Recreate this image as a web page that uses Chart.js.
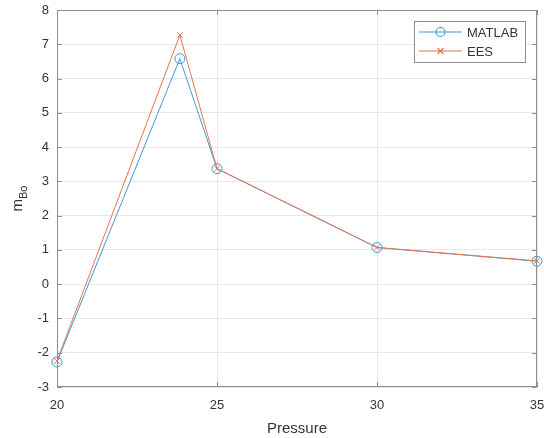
<!DOCTYPE html>
<html>
<head>
<meta charset="utf-8">
<script src="https://cdn.jsdelivr.net/npm/chart.js@4.4.1/dist/chart.umd.min.js"></script>
<style>
  html, body { margin: 0; padding: 0; background: #fff; }
  #wrap { width: 544px; height: 438px; }
</style>
</head>
<body>
<div id="wrap"><canvas id="chart" width="544" height="438"></canvas></div>
<script>
const pressure = [20, 23.84, 25, 30, 35];
const matlabValues = [-2.27, 6.58, 3.37, 1.07, 0.67];
const eesValues = [-2.24, 7.27, 3.37, 1.07, 0.68];
const seriesNames = [`MATLAB`, `EES`];
const xTicks = [20, 25, 30, 35];
const yTicks = [-3, -2, -1, 0, 1, 2, 3, 4, 5, 6, 7, 8];

const FONT = `"Liberation Sans", Arial, sans-serif`;
const AXIS_COLOR = `#8f8f8f`;
const TEXT_COLOR = `#333333`;
const SERIES_COLORS = [`#3a9ad9`, `#e8744a`];

const toPoints = (ys) => pressure.map((x, i) => ({x, y: ys[i]}));

const noPadding = (s) => {
  s.paddingLeft = 0;
  s.paddingRight = 0;
  s.paddingTop = 0;
  s.paddingBottom = 0;
};

// box, inward ticks, y title with subscript, legend
const matlabAxes = {
  id: `matlabAxes`,
  afterDraw(chart) {
    const {ctx, chartArea: a, scales} = chart;
    ctx.save();
    ctx.strokeStyle = AXIS_COLOR;
    ctx.lineWidth = 1;
    ctx.strokeRect(a.left + 0.5, a.top + 0.5, a.right - a.left - 1, a.bottom - a.top - 1);

    ctx.beginPath();
    xTicks.forEach((v) => {
      const px = Math.round(scales.x.getPixelForValue(v)) + 0.5;
      ctx.moveTo(px, a.bottom); ctx.lineTo(px, a.bottom - 5);
      ctx.moveTo(px, a.top); ctx.lineTo(px, a.top + 5);
    });
    yTicks.forEach((v) => {
      const py = Math.round(scales.y.getPixelForValue(v)) + 0.5;
      ctx.moveTo(a.left, py); ctx.lineTo(a.left + 5, py);
      ctx.moveTo(a.right, py); ctx.lineTo(a.right - 5, py);
    });
    ctx.stroke();

    // y title m_Bo
    ctx.fillStyle = TEXT_COLOR;
    ctx.translate(22, (a.top + a.bottom) / 2);
    ctx.rotate(-Math.PI / 2);
    ctx.textBaseline = `alphabetic`;
    ctx.font = `15px ${FONT}`;
    const mW = ctx.measureText(`m`).width;
    ctx.font = `11px ${FONT}`;
    const subW = ctx.measureText(`Bo`).width;
    const start = -(mW + subW) / 2;
    ctx.font = `15px ${FONT}`;
    ctx.fillText(`m`, start, 0);
    ctx.font = `11px ${FONT}`;
    ctx.fillText(`Bo`, start + mW, 5);
    ctx.restore();

    // legend
    ctx.save();
    const lx = 414, ly = 21, lw = 111, lh = 41;
    ctx.fillStyle = `#ffffff`;
    ctx.fillRect(lx, ly, lw, lh);
    ctx.strokeStyle = AXIS_COLOR;
    ctx.lineWidth = 1;
    ctx.strokeRect(lx + 0.5, ly + 0.5, lw, lh);
    ctx.font = `13px ${FONT}`;
    ctx.textBaseline = `middle`;
    seriesNames.forEach((name, i) => {
      const y = ly + 11 + i * 19;
      const cx = 440.5;
      ctx.strokeStyle = SERIES_COLORS[i];
      ctx.lineWidth = 1.2;
      ctx.beginPath();
      ctx.moveTo(419, y);
      ctx.lineTo(462, y);
      if (i === 0) {
        ctx.moveTo(cx + 4.5, y);
        ctx.arc(cx, y, 4.5, 0, Math.PI * 2);
      } else {
        ctx.moveTo(cx - 3, y - 3); ctx.lineTo(cx + 3, y + 3);
        ctx.moveTo(cx - 3, y + 3); ctx.lineTo(cx + 3, y - 3);
      }
      ctx.stroke();
      ctx.fillStyle = TEXT_COLOR;
      ctx.fillText(name, 467, y + 1);
    });
    ctx.restore();
  }
};

new Chart(document.getElementById(`chart`), {
  type: `line`,
  data: {
    datasets: [
      {
        label: seriesNames[0],
        data: toPoints(matlabValues),
        order: 1,
        borderColor: SERIES_COLORS[0],
        backgroundColor: `rgba(0,0,0,0)`,
        borderWidth: 1,
        pointStyle: `circle`,
        pointRadius: 5,
        pointBorderWidth: 1,
        pointBackgroundColor: `rgba(0,0,0,0)`,
        pointBorderColor: SERIES_COLORS[0],
        tension: 0
      },
      {
        label: seriesNames[1],
        data: toPoints(eesValues),
        order: 0,
        borderColor: SERIES_COLORS[1],
        backgroundColor: `rgba(0,0,0,0)`,
        borderWidth: 1,
        pointStyle: `crossRot`,
        pointRadius: 4,
        pointBorderWidth: 1,
        pointBorderColor: SERIES_COLORS[1],
        tension: 0
      }
    ]
  },
  options: {
    responsive: false,
    animation: false,
    clip: false,
    layout: {padding: {top: 10, right: 7, left: 0, bottom: 0}},
    plugins: {legend: {display: false}, tooltip: {enabled: false}},
    scales: {
      x: {
        type: `linear`,
        min: 20,
        max: 35,
        afterBuildTicks: (s) => { s.ticks = xTicks.map((v) => ({value: v})); },
        afterFit: (s) => { s.height = 51; noPadding(s); },
        grid: {color: `#e8e8e8`, drawTicks: false},
        border: {display: false},
        ticks: {color: TEXT_COLOR, font: {family: FONT, size: 13}, padding: 11},
        title: {display: true, text: `Pressure`, color: TEXT_COLOR, font: {family: FONT, size: 15}, padding: {top: 2, bottom: 0}}
      },
      y: {
        type: `linear`,
        min: -3,
        max: 8,
        afterBuildTicks: (s) => { s.ticks = yTicks.map((v) => ({value: v})); },
        afterFit: (s) => { s.width = 57; noPadding(s); },
        grid: {color: `#e8e8e8`, drawTicks: false},
        border: {display: false},
        ticks: {color: TEXT_COLOR, font: {family: FONT, size: 13}, padding: 8}
      }
    }
  },
  plugins: [matlabAxes]
});
</script>
</body>
</html>
